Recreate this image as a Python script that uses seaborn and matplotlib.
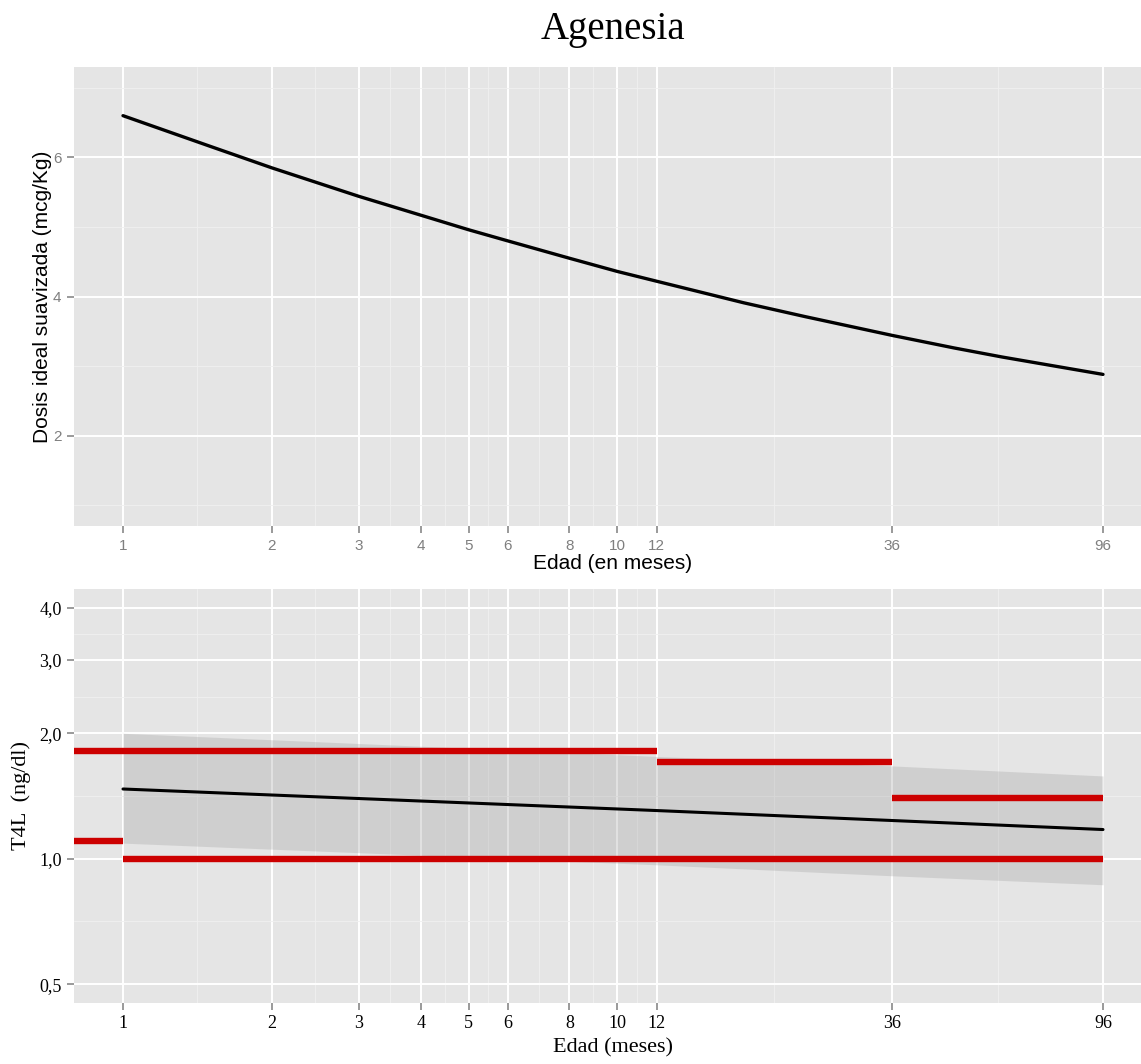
import numpy as np
import pandas as pd
import matplotlib
matplotlib.use("Agg")
import matplotlib.pyplot as plt
import seaborn as sns

# ---- data ----
age_breaks = [1, 2, 3, 4, 5, 6, 8, 10, 12, 36, 96]

dose_age = [1, 1.5, 2, 3, 4, 5, 6, 8, 10, 12, 18, 24, 36, 48, 60, 96]
dose_val = [6.60, 6.16, 5.85, 5.44, 5.17, 4.96, 4.80, 4.55, 4.36, 4.22,
            3.91, 3.71, 3.44, 3.26, 3.13, 2.88]

t4_age = [1, 12, 36, 96]
t4_fit = [1.47, 1.305, 1.235, 1.175]
t4_low = [1.09, 0.967, 0.910, 0.866]
t4_high = [2.00, 1.76, 1.67, 1.58]

# reference bands: (start age, end age, level); None = panel edge
ref_upper = [(None, 12, 1.81), (12, 36, 1.71), (36, 96, 1.40)]
ref_lower = [(None, 1, 1.10), (1, 96, 1.00)]

t4_breaks = [0.5, 1.0, 2.0, 3.0, 4.0]
t4_labels = ["0,5", "1,0", "2,0", "3,0", "4,0"]

dose_breaks = [2, 4, 6]
dose_minor = [1, 3, 5, 7]

sns.set_style("white")
plt.rcParams["font.family"] = ["Liberation Sans", "DejaVu Sans"]
plt.rcParams["text.color"] = "black"
plt.rcParams["axes.labelcolor"] = "black"
plt.rcParams["xtick.bottom"] = True
plt.rcParams["ytick.left"] = True
plt.rcParams["xtick.major.size"] = 5
plt.rcParams["ytick.major.size"] = 5

W, H = 1141, 1064
fig = plt.figure(figsize=(W / 100, H / 100), dpi=100)

PANEL = "#E5E5E5"
MINOR = "#F0F0F0"
TICKC = "#7F7F7F"


def log_expand(lo, hi, f=0.05):
    a, b = np.log(lo), np.log(hi)
    r = (b - a) * f
    return np.exp(a - r), np.exp(b + r)


def log_mids(vals):
    v = np.asarray(vals, float)
    return list(np.sqrt(v[:-1] * v[1:]))


def style_axes(ax):
    ax.set_facecolor(PANEL)
    for s in ax.spines.values():
        s.set_visible(False)
    ax.set_axisbelow(True)
    ax.grid(which="major", color="white", lw=1.4)
    ax.grid(which="minor", color=MINOR, lw=0.6)


def style_ticks(ax, labelsize, labelcolor):
    ax.tick_params(which="major", direction="out", length=5, width=1.1,
                   color=TICKC, pad=4, bottom=True, left=True,
                   labelsize=labelsize, labelcolor=labelcolor)
    ax.tick_params(which="minor", length=0)


xlim = log_expand(1, 96)

def px_axes(l, t, r, b):
    return fig.add_axes([l / W, 1 - b / H, (r - l) / W, (b - t) / H])

# ---- top panel: smoothed ideal dose ----
ax1 = px_axes(74, 67, 1152, 526)
style_axes(ax1)
df_dose = pd.DataFrame({"edad": dose_age, "dosis": dose_val})
sns.lineplot(data=df_dose, x="edad", y="dosis", ax=ax1, color="black",
             lw=2.4, zorder=3)
ax1.set_xscale("log")
ax1.set_xlim(*xlim)
ax1.set_ylim(0.7, 7.3)
ax1.set_xticks(age_breaks)
ax1.set_xticklabels([str(b) for b in age_breaks])
ax1.set_xticks(log_mids(age_breaks), minor=True)
ax1.set_yticks(dose_breaks)
ax1.set_yticklabels([str(b) for b in dose_breaks])
ax1.set_yticks(dose_minor, minor=True)
ax1.xaxis.set_minor_formatter(matplotlib.ticker.NullFormatter())
style_ticks(ax1, 11, TICKC)
ax1.set_xlabel("Edad (en meses)", fontsize=15, labelpad=1)
ax1.set_ylabel("Dosis ideal suavizada (mcg/Kg)", fontsize=15, labelpad=1)

fig.text(613 / W, 1 - 30 / H, "Agenesia", ha="center", va="center",
         fontsize=28, family="Liberation Serif", color="black")

# ---- bottom panel: free T4 ----
ax2 = px_axes(74, 589, 1152, 1003)
style_axes(ax2)
ax2.set_xscale("log")
ax2.set_yscale("log")
ax2.set_xlim(*xlim)
ylim2 = log_expand(0.5, 4.0)
ax2.set_ylim(*ylim2)

ax2.fill_between(t4_age, t4_low, t4_high, color="#999999", alpha=0.28,
                 lw=0, zorder=2)
df_t4 = pd.DataFrame({"edad": t4_age, "t4": t4_fit})
sns.lineplot(data=df_t4, x="edad", y="t4", ax=ax2, color="black", lw=2.2,
             zorder=4)

for x0, x1, lvl in ref_upper + ref_lower:
    x0 = xlim[0] if x0 is None else x0
    ax2.hlines(lvl, x0, x1, color="#CC0000", lw=4.6, zorder=5)

ax2.set_xlim(*xlim)
ax2.set_ylim(*ylim2)
ax2.set_xticks(age_breaks)
ax2.set_xticklabels([str(b) for b in age_breaks])
ax2.set_xticks(log_mids(age_breaks), minor=True)
ax2.set_yticks(t4_breaks)
ax2.set_yticklabels(t4_labels)
ax2.set_yticks(log_mids(t4_breaks), minor=True)
ax2.xaxis.set_minor_formatter(matplotlib.ticker.NullFormatter())
ax2.yaxis.set_minor_formatter(matplotlib.ticker.NullFormatter())
style_ticks(ax2, 13, "black")
for lab in ax2.get_xticklabels() + ax2.get_yticklabels():
    lab.set_family("Liberation Serif")
ax2.set_xlabel("Edad (meses)", fontsize=16, family="Liberation Serif",
               labelpad=4)
ax2.set_ylabel("T4L  (ng/dl)", fontsize=16, family="Liberation Serif",
               labelpad=6)

fig.savefig("out.png", dpi=100)
